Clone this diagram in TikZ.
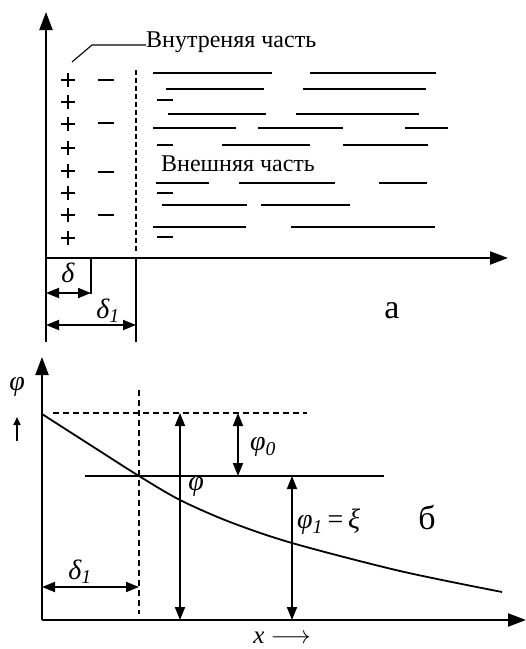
\documentclass[tikz,border=0pt]{standalone}
\usepackage{fontspec}
\setmainfont{Liberation Serif}
\usetikzlibrary{arrows.meta}

\begin{document}
\begin{tikzpicture}[
            x={(1pt,0pt)},
            y={(0pt,-1pt)},
            >={Triangle[length=13pt,width=10pt]},
            axis/.style={line width=2.2pt, -{Triangle[length=18pt,width=13pt]}},
            dim/.style={line width=1.8pt, <->},
            rule/.style={line width=2pt},
            guide/.style={line width=1.6pt, dash pattern=on 6pt off 4pt},
            layer/.style={line width=1.2pt},
            lbl/.style={font=\fontsize{24}{24}\selectfont, inner sep=0pt},
            sym/.style={font=\fontsize{28}{28}\selectfont\itshape, inner sep=0pt},
            big/.style={font=\fontsize{34}{34}\selectfont, inner sep=0pt}
        ]
            \useasboundingbox (0,0) rectangle (526,649);

            % --- a: coordinates ---
            \coordinate (Oa) at (46,258);
            \coordinate (Ya) at (46,12);
            \coordinate (Xa) at (508,258);
            \coordinate (Ba) at (46,342);
            \coordinate (Dl) at (91,258);
            \coordinate (Dr) at (91,294);
            \coordinate (Ut) at (136,70);
            \coordinate (Ub) at (136,252);
            \coordinate (Vt) at (136,258);
            \coordinate (Vb) at (136,342);

            % --- a: axes and boundaries ---
            \draw[axis] (Oa) -- (Ya);
            \draw[axis] (Oa) -- (Xa);
            \draw[rule] (Oa) -- (Ba);
            \draw[rule] (Dl) -- (Dr);
            \draw[rule] (Vt) -- (Vb);
            \draw[line width=2.2pt, dash pattern=on 5pt off 3pt] (Ut) -- (Ub);

            % --- a: double layer ---
            \foreach \yy in {80,102,124,148,171,193,215,238}
                \draw[line width=1.2pt] (61,\yy) -- (75,\yy) (68,\yy-7) -- (68,\yy+7);
            \foreach \yy in {80,123,172,215}
                \draw[line width=1.7pt] (98,\yy) -- (114,\yy);

            % --- a: diffuse part ---
            \foreach \yy/\xa/\xb in {73/153/272, 73/310/436, 89/166/264, 89/303/426,
                    114/168/266, 114/296/419, 128/153/236, 128/258/343, 128/405/448,
                    145/222/310, 145/343/428, 183/156/209, 183/239/335, 183/379/427,
                    205/162/247, 205/261/350, 227/153/246, 227/291/435}
                \draw[layer] (\xa,\yy) -- (\xb,\yy);
            \foreach \yy in {100,145,193,237}
                \draw[line width=2pt] (157,\yy) -- (173,\yy);

            % --- a: labels ---
            \node[lbl, anchor=west] (inner) at (146,42) {Внутреняя часть};
            \coordinate (Lk) at (92,45);
            \coordinate (Lp) at (72,62);
            \draw[line width=1.1pt] (inner.west |- Lk) -- (Lk) -- (Lp);
            \node[lbl, anchor=west] (outer) at (161,164) {Внешняя часть};

            \coordinate (Da) at (46,293);
            \coordinate (Db) at (91,293);
            \coordinate (Ea) at (46,325);
            \coordinate (Eb) at (136,325);
            \draw[dim] (Da) -- (Db);
            \draw[dim] (Ea) -- (Eb);
            \node[sym] (delta) at (68,273) {δ};
            \node[sym] (delta1) at (108,311) {δ\textsubscript{1}};
            \node[big] (pa) at (392,311) {а};

            % --- b: coordinates ---
            \coordinate (Ob) at (42,620);
            \coordinate (Yb) at (42,357);
            \coordinate (Xb) at (526,620);
            \coordinate (Hl) at (53,413);
            \coordinate (Hr) at (307,413);
            \coordinate (Wt) at (139,390);
            \coordinate (Wb) at (139,614);
            \coordinate (Sl) at (85,476);
            \coordinate (Sr) at (384,476);

            % --- b: axes and guides ---
            \draw[axis] (Ob) -- (Yb);
            \draw[axis] (Ob) -- (Xb);
            \draw[guide] (Hl) -- (Hr);
            \draw[guide] (Wt) -- (Wb);
            \draw[line width=1.6pt] (Sl) -- (Sr);

            % --- b: potential curve ---
            \draw[line width=1.8pt] plot[smooth, tension=0.5] coordinates
                {(42,414) (95,448) (139,476) (180,500) (230,522) (292,543) (400,571) (502,592)};

            % --- b: dimension arrows ---
            \coordinate (Pa) at (180,413);
            \coordinate (Pb) at (180,620);
            \coordinate (Qa) at (238,413);
            \coordinate (Qb) at (238,476);
            \coordinate (Ra) at (292,476);
            \coordinate (Rb) at (292,620);
            \coordinate (Ga) at (42,587);
            \coordinate (Gb) at (139,587);
            \draw[dim] (Pa) -- (Pb);
            \draw[dim] (Qa) -- (Qb);
            \draw[dim] (Ra) -- (Rb);
            \draw[dim] (Ga) -- (Gb);

            % --- b: labels ---
            \node[sym] (phiax) at (17,387) {φ};
            \coordinate (Ua) at (17,441);
            \coordinate (Ub2) at (17,417);
            \draw[line width=1.6pt, -{Triangle[length=8pt,width=7pt]}] (Ua) -- (Ub2);
            \node[sym] (phi0) at (263,447) {φ\textsubscript{0}};
            \node[sym] (phi) at (196,487) {φ};
            \node[sym, anchor=west] (phi1) at (297,522) {φ\textsubscript{1}\,\upshape=\,\itshape ξ};
            \node[sym] (delta1b) at (80,572) {δ\textsubscript{1}};
            \node[big] (pb) at (427,517) {б};
            \node[sym, font=\fontsize{25}{25}\selectfont\itshape, anchor=base] (xlab) at (282,643) {x $\longrightarrow$};

        \end{tikzpicture}
\end{document}
